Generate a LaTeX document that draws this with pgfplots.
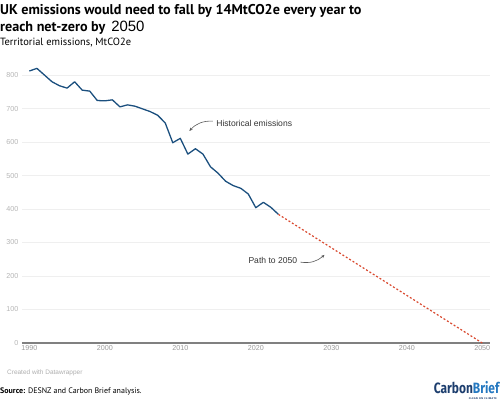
\documentclass[border=0pt]{standalone}
\usepackage{pgfplots}
\pgfplotsset{compat=1.18}
\usetikzlibrary{arrows.meta}
\usepackage{fontspec}
\setmainfont{Liberation Sans}
\newfontfamily\ptsans{PT Sans}
\newfontfamily\fira{Fira Sans}
\definecolor{histblue}{HTML}{1B4F7E}
\definecolor{pathred}{HTML}{D9492F}
\definecolor{gridc}{HTML}{EFEFEF}
\definecolor{ticky}{HTML}{B5B5B5}
\definecolor{tickx}{HTML}{9A9A9A}
\definecolor{cbnavy}{HTML}{1D3E6E}
\definecolor{cbblue}{HTML}{2478C0}
\begin{document}
\begin{tikzpicture}
\path[use as bounding box] (0bp,0bp) rectangle (500bp,404bp);
% titles
\node[anchor=base west,inner sep=0pt,font=\ptsans\bfseries\fontsize{14.2}{16}\selectfont] at (0bp,389bp) {UK emissions would need to fall by 14MtCO2e every year to};
\node[anchor=base west,inner sep=0pt,font=\ptsans\bfseries\fontsize{14.2}{16}\selectfont] at (0bp,372bp) {reach net-zero by \,{\normalfont\fontsize{15}{16}\selectfont 2050}};
\node[anchor=base west,inner sep=0pt,font=\ptsans\fontsize{10.5}{12}\selectfont] at (0bp,358bp) {Territorial emissions, MtCO2e};
% footer
\node[anchor=base west,inner sep=0pt,font=\fontsize{6.5}{8}\selectfont,text=tickx!80] at (7bp,30bp) {Created with Datawrapper};
\node[anchor=base west,inner sep=0pt,font=\ptsans\fontsize{8}{10}\selectfont] at (0bp,11bp) {\textbf{Source:} DESNZ and Carbon Brief analysis.};
\node[anchor=base east,inner sep=0pt,font=\fira\bfseries\fontsize{15}{16}\selectfont,xscale=0.8] at (499.5bp,10.5bp) {\textcolor{cbnavy}{Carbon}\textcolor{cbblue}{Brief}};
\node[anchor=base east,inner sep=0pt,font=\fira\bfseries\fontsize{2.6}{3}\selectfont,text=cbnavy] at (497bp,5bp) {C\,L\,E\,A\,N\ \ O\,N\ \ C\,L\,I\,M\,A\,T\,E};
\begin{axis}[
  at={(21.8bp,61bp)}, anchor=south west,
  scale only axis, width=468bp, height=278bp,
  xmin=1989, xmax=2051, ymin=0, ymax=830,
  clip=false,
  axis lines*=left,
  x axis line style={draw=black!50, line width=1.1pt, -},
  y axis line style={draw=none, -},
  xtick={1990,2000,...,2050},
  ytick={0,100,...,800},
  major tick length=0pt,
  ymajorgrids, grid style={draw=gridc, line width=0.6pt},
  xticklabel style={font=\fontsize{7.2}{8}\selectfont, text=tickx, yshift=1pt},
  yticklabel style={font=\fontsize{7.2}{8}\selectfont, text=ticky, xshift=0pt},
  /pgf/number format/1000 sep={},
  /pgf/number format/assume math mode=true,
]
\addplot[histblue, line width=1.3pt, line join=round] coordinates {
(1990,812) (1991,820) (1992,800) (1993,780) (1994,768) (1995,761)
(1996,780) (1997,755) (1998,752) (1999,724) (2000,723) (2001,726)
(2002,705) (2003,711) (2004,707) (2005,699) (2006,691) (2007,680)
(2008,657) (2009,598) (2010,611) (2011,564) (2012,580) (2013,564)
(2014,526) (2015,507) (2016,483) (2017,470) (2018,462) (2019,445)
(2020,404) (2021,420) (2022,405) (2023,384)
};
\addplot[pathred, line width=1.2pt, dash pattern=on 2pt off 2pt] coordinates {
(2023,384) (2050,0)
};
% annotations
\node[anchor=west, inner sep=0pt, font=\fontsize{8.6}{10}\selectfont, text=black!80] at (axis cs:2014.75,656.7) {Historical emissions};
\draw[black!65, line width=0.6pt, -{Stealth[length=3.5pt,width=3pt]}] (axis cs:2014.3,662.5) to[bend right=25] (axis cs:2011.2,633);
\node[anchor=east, inner sep=0pt, font=\fontsize{8.6}{10}\selectfont, text=black!80] at (axis cs:2025.5,247.8) {Path to 2050};
\draw[black!65, line width=0.6pt, -{Stealth[length=3.5pt,width=3pt]}] (axis cs:2025.9,241.5) to[bend right=25] (axis cs:2029.1,263);
\end{axis}
\end{tikzpicture}
\end{document}
